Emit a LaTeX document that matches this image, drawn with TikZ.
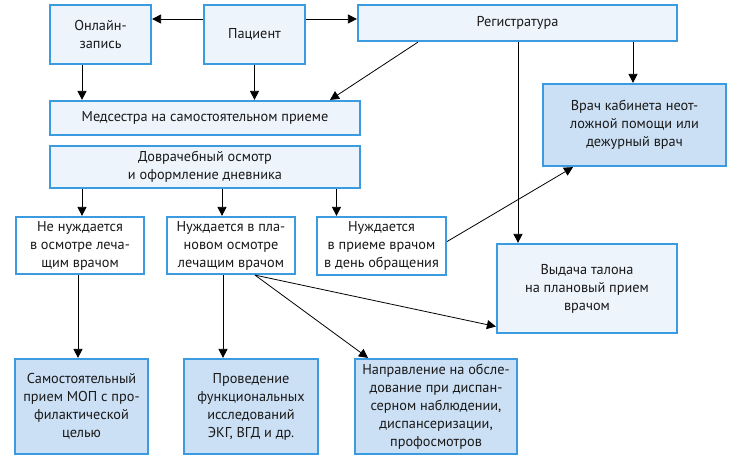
\documentclass[tikz,border=0pt]{standalone}
\usepackage{fontspec}
\setmainfont{PT Sans}
\usetikzlibrary{arrows.meta,positioning}
\definecolor{boxline}{HTML}{3A9BE0}
\definecolor{lightfill}{HTML}{EEF4FC}
\definecolor{darkfill}{HTML}{CCE0F5}

\begin{document}
\begin{tikzpicture}[x=1pt,y=-1pt,->,>={Triangle[width=9pt,length=9pt]},line width=0.8pt,
    base node/.style={draw=boxline,line width=2.2pt,align=center,inner sep=0pt,text=black!90,font=\fontsize{14.3}{18}\selectfont},
    light node/.style={base node,fill=lightfill}, white node/.style={base node,fill=white}, dark node/.style={base node,fill=darkfill}]

\useasboundingbox (0,0) rectangle (738,459);

\node[light node,minimum width=101pt,minimum height=59pt] (online)  at (100.5,34.5) {Онлайн-\\запись};
\node[light node,minimum width=101pt,minimum height=59pt] (patient) at (254.5,34.5) {Пациент};
\node[light node,minimum width=319pt,minimum height=36pt] (reg)     at (517.5,23)   {Регистратура};
\node[light node,minimum width=310pt,minimum height=34pt] (nurse)   at (205,118)    {Медсестра на самостоятельном приеме};
\node[light node,minimum width=310pt,minimum height=42pt] (pre)     at (205,167)    {Доврачебный осмотр\\и оформление дневника};
\node[white node,minimum width=128pt,minimum height=57pt] (notneed) at (80,245.5)   {Не нуждается\\в осмотре леча-\\щим врачом};
\node[white node,minimum width=128pt,minimum height=57pt] (planned) at (231,245.5)  {Нуждается в пла-\\новом осмотре\\лечащим врачом};
\node[white node,minimum width=129pt,minimum height=58pt] (sameday) at (381.5,246)  {Нуждается\\в приеме врачом\\в день обращения};
\node[dark node,minimum width=183pt,minimum height=82pt]  (urgent)  at (634.5,125)  {Врач кабинета неот-\\ложной помощи или\\дежурный врач};
\node[light node,minimum width=180pt,minimum height=89pt] (ticket)  at (587,288.5)  {Выдача талона\\на плановый прием\\врачом};
\node[dark node,minimum width=133pt,minimum height=95pt]  (self)    at (81.5,406.5) {Самостоятельный\\прием МОП с про-\\филактической\\целью};
\node[dark node,minimum width=134pt,minimum height=95pt]  (func)    at (251,406.5)  {Проведение\\функциональных\\исследований\\ЭКГ, ВГД и др.};
\node[dark node,minimum width=162pt,minimum height=95pt]  (refer)   at (436,406.5)  {Направление на обсле-\\дование при диспан-\\серном наблюдении,\\диспансеризации,\\профосмотров};

\draw ([yshift=15.5pt]patient.west) -- ([yshift=15.5pt]patient.west -| online.east);
\draw ([yshift=15.5pt]patient.east) -- ([yshift=15.5pt]patient.east -| reg.west);
\draw ([xshift=-18.5pt]online.south) -- ([xshift=-18.5pt]online.south |- nurse.north);
\draw (patient.south) -- (patient.south |- nurse.north);
\draw ([xshift=-99.5pt]reg.south) -- ([xshift=125pt]nurse.north);
\draw ([xshift=0.5pt]reg.south) -- ([xshift=0.5pt]reg.south |- ticket.north);
\draw ([xshift=115.5pt]reg.south) -- ([xshift=115.5pt]reg.south |- urgent.north);
\draw ([yshift=4.5pt]sameday.east) -- ([xshift=-61.5pt]urgent.south);
\draw ([xshift=-123pt]pre.south) -- ([xshift=-123pt]pre.south |- notneed.north);
\draw ([xshift=17pt]pre.south) -- ([xshift=17pt]pre.south |- planned.north);
\draw ([xshift=131.5pt]pre.south) -- ([xshift=131.5pt]pre.south |- sameday.north);
\draw ([xshift=-2pt]notneed.south) -- ([xshift=-2pt]notneed.south |- self.north);
\draw ([xshift=-8pt]planned.south) -- ([xshift=-8pt]planned.south |- func.north);
\draw ([xshift=24pt]planned.south) -- ([xshift=-68pt]refer.north);
\draw ([xshift=24pt]planned.south) -- ([yshift=-38pt]ticket.west);
\end{tikzpicture}
\end{document}
